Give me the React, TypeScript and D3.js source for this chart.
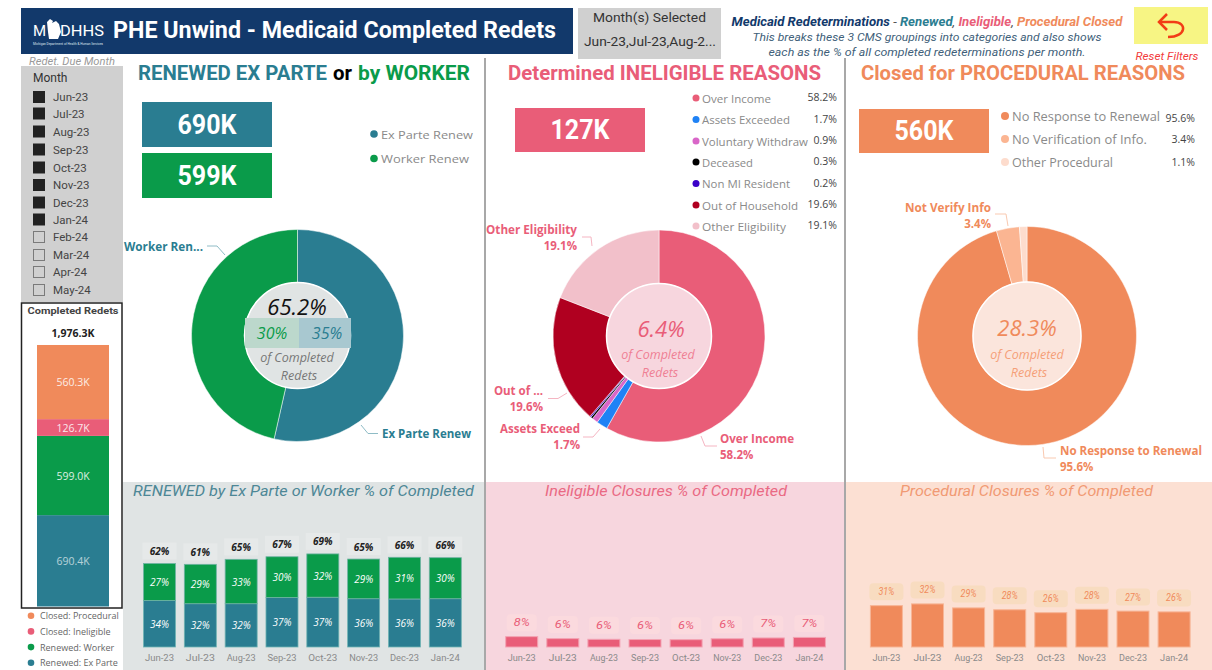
import React from "react";
import * as d3 from "d3";

// ---- data ----
const sliceMonths = ["Jun-23","Jul-23","Aug-23","Sep-23","Oct-23","Nov-23","Dec-23","Jan-24","Feb-24","Mar-24","Apr-24","May-24"];
const selectedCount = 8;
const barMonths = sliceMonths.slice(0, selectedCount);

const exParteShare = [34.4,32,32,36.6,36.8,35.7,35.5,35.7];
const workerShare = [27.3,29.1,32.8,30.1,32,29.3,30.8,30.3];
const ineligibleShare = [7.8,6.3,5.8,5.6,5.5,6.2,6.8,7.2];
const proceduralShare = [31.1,32.4,29.4,28,25.8,28.3,27,26.4];

const renewNames = ["Ex Parte Renew","Worker Renew"];
const renewValues = [690.4,599.0];
const ineligibleNames = ["Over Income","Assets Exceeded","Voluntary Withdraw","Deceased","Non MI Resident","Out of Household","Other Eligibility"];
const ineligibleValues = [58.2,1.7,0.9,0.3,0.2,19.6,19.1];
const proceduralNames = ["No Response to Renewal","No Verification of Info.","Other Procedural"];
const proceduralValues = [95.6,3.4,1.1];

const stackNames = ["Renewed: Ex Parte","Renewed: Worker","Closed: Ineligible","Closed: Procedural"];
const stackValues = [690.4,599.0,126.7,560.3];
const stackTotal = 1976.3;

// ---- style ----
const TEAL="#2a7d91", GREEN="#0a9b4a", PINK="#e95d78", ORANGE="#f08a5b";
const ineligibleColors=[PINK,"#1f82f5","#d966c8","#000000","#3a00c8","#b00020","#f2c0ca"];
const proceduralColors=[ORANGE,"#fbb592","#fddccd"];
const DIN="Roboto, 'Noto Sans', sans-serif";
const SEG="'Open Sans', 'Noto Sans', sans-serif";

const T=({x,y,children,size=12,fill="#555",weight=400,italic=false,anchor="start",font=SEG,len,op}:any)=>(
  <text x={x} y={y} fontSize={size} fill={fill} fontWeight={weight} fontStyle={italic?"italic":"normal"} textAnchor={anchor} fontFamily={font}
    textLength={len} lengthAdjust={len?"spacingAndGlyphs":undefined} opacity={op} dominantBaseline="central">{children}</text>
);

function Donut({cx,cy,r,ri,values,colors,hole,sep="#fff"}:any){
  const pie=d3.pie<number>().sort(null).value(d=>d);
  const arc=d3.arc<d3.PieArcDatum<number>>().innerRadius(ri).outerRadius(r);
  return <g transform={`translate(${cx},${cy})`}>
    {pie(values).map((a,i)=><path key={i} d={arc(a)||""} fill={colors[i]} stroke={sep} strokeWidth={0.5}/>)}
    <circle r={ri} fill={hole} stroke="#fff" strokeWidth={1.5}/>
  </g>;
}

const Leader=({pts,color}:any)=><path d={d3.line()(pts)||""} fill="none" stroke={color} strokeWidth={1}/>;

function BarPanel({x0,step,width,scale,values,color,edge,pill,pillW,pillH,textColor,gap}:any){
  const centers=barMonths.map((_,i)=>x0+i*step);
  const y=d3.scaleLinear().domain([0,100]).range([647,647-100*scale]);
  return <g>
    {values.map((v:number,i:number)=><g key={i}>
      <rect x={centers[i]-width/2} y={y(v)} width={width} height={647-y(v)} fill={color} stroke={edge} strokeWidth={1}/>
      <rect x={centers[i]-pillW/2} y={y(v)-gap-pillH/2} width={pillW} height={pillH} rx={4} fill={pill}/>
      <T x={centers[i]} y={y(v)-gap} anchor="middle" size={11} italic font={DIN} fill={textColor} len={16}>{Math.round(v)}%</T>
      <T x={centers[i]} y={657} anchor="middle" size={9.5} font={DIN} fill="#8a8a8a" len={28}>{barMonths[i]}</T>
    </g>)}
  </g>;
}

export default function App(){
  const stackY=d3.scaleLinear().domain([0,stackTotal]).range([606.5,345]);
  const stackColors=[TEAL,GREEN,PINK,ORANGE];
  let acc=0;
  const stacks=stackValues.map((v,i)=>{const s={y0:acc,y1:acc+v,v,c:stackColors[i]};acc+=v;return s;});

  const rx=d3.scaleLinear().domain([0,7]).range([159.5,445.3]);
  const ry=d3.scaleLinear().domain([0,100]).range([647,647-135.3]);

  const ineligRows=[98,119.5,141,162,183.5,205,226];
  const procRows=[116,139,162];

  return <svg width={1212} height={670} style={{position:"absolute",left:0,top:0,display:"block",background:"#fff"}}>
    {/* header */}
    <rect x={21} y={8} width={552} height={46} fill="#12396b"/>
    <path d="M47 22 l3 -3 l3 2 l-1 2 l4 -2 l3 3 l2 8 l-3 7 l-9 0 l-1 -7 z" fill="#fff"/>
    <T x={33} y={31} size={15} fill="#fff" font={DIN}>M</T>
    <T x={60} y={31} size={15} fill="#fff" font={DIN} len={44}>DHHS</T>
    <T x={33} y={43.5} size={3.5} fill="#dfe6ee" font={DIN} len={70}>Michigan Department of Health &amp; Human Services</T>
    <T x={113} y={30} size={23} fill="#fff" weight={700} font={DIN} len={443}>PHE Unwind - Medicaid Completed Redets</T>

    <rect x={578} y={8} width={143} height={51} fill="#d0d0d0"/>
    <T x={649.5} y={17} anchor="middle" size={12.5} font={DIN} fill="#333" len={113}>Month(s) Selected</T>
    <T x={650} y={41} anchor="middle" size={12.5} font={DIN} fill="#333" len={132}>Jun-23,Jul-23,Aug-2...</T>

    <text x={927} y={21} textAnchor="middle" fontSize={13.2} fontStyle="italic" fontFamily={DIN} dominantBaseline="central">
      <tspan fill="#12396b" fontWeight={700}>Medicaid Redeterminations</tspan><tspan fill="#555"> - </tspan>
      <tspan fill={TEAL} fontWeight={700}>Renewed</tspan><tspan fill="#555">, </tspan>
      <tspan fill={PINK} fontWeight={700}>Ineligible</tspan><tspan fill="#555">, </tspan>
      <tspan fill={ORANGE} fontWeight={700}>Procedural Closed</tspan>
    </text>
    <T x={927} y={37} anchor="middle" size={11.5} italic font={DIN} fill="#3f5f7a" len={349}>This breaks these 3 CMS groupings into categories and also shows</T>
    <T x={927} y={52} anchor="middle" size={11.5} italic font={DIN} fill="#3f5f7a" len={317}>each as the % of all completed redeterminations per month.</T>

    <rect x={1134} y={7} width={74} height={37} fill="#f7f584"/>
    <path d="M1160 22 H1174 C1187 22 1187 37 1168 37" fill="none" stroke="#f23c16" strokeWidth={2.5}/>
    <path d="M1167 14 L1159 22 L1167 30" fill="none" stroke="#f23c16" strokeWidth={2.5}/>
    <T x={1167} y={56.5} anchor="middle" size={10} italic font={DIN} fill="#f23c3c" len={63}>Reset Filters</T>

    {/* slicer */}
    <T x={29} y={61} size={10} italic font={DIN} fill="#9a9a9a" len={86}>Redet. Due Month</T>
    <rect x={21} y={66} width={102} height={236} fill="#d0d0d0"/>
    <T x={33} y={78} size={12} font={DIN} fill="#333">Month</T>
    {sliceMonths.map((m,i)=>{
      const ys=[97,113.5,131.5,149.5,167.5,185,202.5,219.5,237,255,272,290][i];
      return <g key={m}>
        <rect x={33.5} y={ys-5.5} width={11} height={11} fill={i<selectedCount?"#222":"none"} stroke={i<selectedCount?"#222":"#7a7a7a"}/>
        <T x={53} y={ys} size={11.5} font={DIN} fill="#444">{m}</T>
      </g>;
    })}

    {/* stacked total */}
    <rect x={21.5} y={303} width={100.5} height={305} fill="#fff" stroke="#222" strokeWidth={1.5}/>
    <T x={73} y={310} anchor="middle" size={9.5} weight={700} font={DIN} fill="#444" len={91}>Completed Redets</T>
    <T x={73} y={333} anchor="middle" size={10.5} weight={700} font={SEG} fill="#222">{`${d3.format(",.1f")(stackTotal)}K`}</T>
    {stacks.map((s,i)=><g key={i}>
      <rect x={37} width={72} y={stackY(s.y1)} height={stackY(s.y0)-stackY(s.y1)} fill={s.c}/>
      <T x={73} y={(stackY(s.y0)+stackY(s.y1))/2} anchor="middle" size={10.5} font={SEG} fill="#fff" op={i===0?0.65:0.85}>{`${s.v.toFixed(1)}K`}</T>
    </g>)}
    {[3,2,1,0].map((k,j)=><g key={k}>
      <circle cx={31} cy={615.7+j*15.7} r={3.3} fill={stackColors[k]}/>
      <T x={40} y={615.7+j*15.7} size={9} font={SEG} fill="#666">{stackNames[k]}</T>
    </g>)}

    {/* bottom panels */}
    <rect x={123} y={482} width={362} height={188} fill="#e0e4e4"/>
    <rect x={486} y={482} width={359} height={188} fill="#f7d6de"/>
    <rect x={846} y={482} width={366} height={188} fill="#fce0d3"/>
    <line x1={485} x2={485} y1={58} y2={670} stroke="#a8a8a8" strokeWidth={2}/>
    <line x1={845} x2={845} y1={58} y2={670} stroke="#a8a8a8" strokeWidth={2}/>

    {/* section titles */}
    <T x={138} y={73} size={21} weight={700} font={DIN} fill={TEAL} len={189}>RENEWED EX PARTE</T>
    <T x={333} y={73} size={21} weight={700} font={DIN} fill="#000" len={19}>or</T>
    <T x={358} y={73} size={21} weight={700} font={DIN} fill={GREEN} len={112}>by WORKER</T>
    <T x={508} y={73} size={21} weight={700} font={DIN} fill={PINK} len={313}>Determined INELIGIBLE REASONS</T>
    <T x={861} y={73} size={21} weight={700} font={DIN} fill={ORANGE} len={324}>Closed for PROCEDURAL REASONS</T>

    {/* KPI */}
    <rect x={142} y={102} width={130} height={45} fill={TEAL}/>
    <T x={207} y={125} anchor="middle" size={27} weight={700} font={DIN} fill="#fff" len={59}>690K</T>
    <rect x={142} y={153} width={130} height={45} fill={GREEN}/>
    <T x={207} y={176} anchor="middle" size={27} weight={700} font={DIN} fill="#fff" len={59}>599K</T>
    <rect x={515} y={108} width={130} height={44} fill={PINK}/>
    <T x={580} y={130} anchor="middle" size={27} weight={700} font={DIN} fill="#fff" len={59}>127K</T>
    <rect x={859} y={109} width={130} height={44} fill={ORANGE}/>
    <T x={924} y={131} anchor="middle" size={27} weight={700} font={DIN} fill="#fff" len={59}>560K</T>

    {/* legends */}
    {renewNames.map((n,i)=><g key={n}>
      <circle cx={374} cy={134+i*24.5} r={3.8} fill={[TEAL,GREEN][i]}/>
      <T x={381} y={134+i*24.5} size={11.5} font={SEG} fill="#8a8a8a" len={92-i*4}>{n}</T>
    </g>)}
    {ineligibleNames.map((n,i)=><g key={n}>
      <circle cx={696} cy={ineligRows[i]} r={3.5} fill={ineligibleColors[i]}/>
      <T x={702} y={ineligRows[i]} size={11} font={SEG} fill="#8a8a8a" len={[69,88,106,51,88,96,84][i]}>{n}</T>
      <T x={837} y={ineligRows[i]-1} anchor="end" size={10.5} font={SEG} fill="#444">{`${ineligibleValues[i].toFixed(1)}%`}</T>
    </g>)}
    {proceduralNames.map((n,i)=><g key={n}>
      <circle cx={1005} cy={procRows[i]} r={4} fill={proceduralColors[i]}/>
      <T x={1012} y={procRows[i]} size={12} font={SEG} fill="#8a8a8a" len={[148,135,101][i]}>{n}</T>
      <T x={1195} y={procRows[i]+(i===0?2:0)} anchor="end" size={10.5} font={SEG} fill="#444">{`${proceduralValues[i].toFixed(1)}%`}</T>
    </g>)}

    {/* donuts */}
    <Donut cx={297.5} cy={335.5} r={106} ri={53} values={renewValues} colors={[TEAL,GREEN]} hole="#e0e4e4"/>
    <rect x={245} y={318} width={54} height={30} fill="#bcd8cc"/>
    <rect x={299} y={318} width={52} height={30} fill="#a8c8d0"/>
    <T x={297} y={306} anchor="middle" size={22} italic font={SEG} fill="#111">65.2%</T>
    <T x={272} y={333} anchor="middle" size={16} italic font={SEG} fill={GREEN}>{`${Math.round(599.0/1976.3*100)}%`}</T>
    <T x={327} y={333} anchor="middle" size={16} italic font={SEG} fill={TEAL}>{`${Math.round(690.4/1976.3*100)}%`}</T>
    <T x={297} y={357} anchor="middle" size={12.5} italic font={SEG} fill="#777">of Completed</T>
    <T x={299} y={375} anchor="middle" size={12.5} italic font={SEG} fill="#777">Redets</T>
    <Leader color="#8fbcc6" pts={[[225,255],[217,246],[207,246]]}/>
    <Leader color="#8fbcc6" pts={[[361,425],[368,433.5],[378,433.5]]}/>
    <T x={124} y={246} size={11.5} weight={700} font={SEG} fill={TEAL} len={79}>Worker Ren...</T>
    <T x={382} y={433} size={11.5} weight={700} font={SEG} fill={TEAL} len={89}>Ex Parte Renew</T>

    <Donut cx={659} cy={336} r={106} ri={52.5} values={ineligibleValues} colors={ineligibleColors} hole="#f7d6de"/>
    <T x={661} y={328} anchor="middle" size={22} italic font={SEG} fill={PINK}>6.4%</T>
    <T x={658} y={354} anchor="middle" size={12.5} italic font={SEG} fill="#ef7f94">of Completed</T>
    <T x={660} y={372} anchor="middle" size={12.5} italic font={SEG} fill="#ef7f94">Redets</T>
    <Leader color="#f5b5c2" pts={[[592,246],[591,237],[582,237]]}/>
    <Leader color="#f5b5c2" pts={[[567,393],[558,398.5],[548,398.5]]}/>
    <Leader color="#f5b5c2" pts={[[600,429],[593,437],[583,437]]}/>
    <Leader color="#f5b5c2" pts={[[701,436],[705,446],[717,446]]}/>
    <T x={577} y={229} anchor="end" size={11.5} weight={700} font={SEG} fill={PINK} len={91}>Other Eligibility</T>
    <T x={577} y={245} anchor="end" size={11.5} weight={700} font={SEG} fill={PINK}>{`${ineligibleValues[6]}%`}</T>
    <T x={543} y={390} anchor="end" size={11.5} weight={700} font={SEG} fill={PINK}>Out of ...</T>
    <T x={543} y={406} anchor="end" size={11.5} weight={700} font={SEG} fill={PINK}>{`${ineligibleValues[5]}%`}</T>
    <T x={580} y={428} anchor="end" size={11.5} weight={700} font={SEG} fill={PINK} len={80}>Assets Exceed</T>
    <T x={580} y={444} anchor="end" size={11.5} weight={700} font={SEG} fill={PINK}>{`${ineligibleValues[1]}%`}</T>
    <T x={720} y={438} size={11.5} weight={700} font={SEG} fill={PINK} len={74}>Over Income</T>
    <T x={720} y={454} size={11.5} weight={700} font={SEG} fill={PINK}>{`${ineligibleValues[0]}%`}</T>

    <Donut cx={1027} cy={336} r={109.5} ri={54} values={proceduralValues} colors={proceduralColors} hole="#fbe5dc"/>
    <T x={1027} y={327} anchor="middle" size={22} italic font={SEG} fill={ORANGE}>28.3%</T>
    <T x={1027} y={354} anchor="middle" size={12.5} italic font={SEG} fill="#f59f78">of Completed</T>
    <T x={1029} y={372} anchor="middle" size={12.5} italic font={SEG} fill="#f59f78">Redets</T>
    <Leader color="#f9c9b0" pts={[[1008,226],[1006,214],[995,214]]}/>
    <Leader color="#f9c9b0" pts={[[1043,447],[1044,458],[1056,458]]}/>
    <T x={991} y={207} anchor="end" size={11.5} weight={700} font={SEG} fill={ORANGE} len={86}>Not Verify Info</T>
    <T x={991} y={223} anchor="end" size={11.5} weight={700} font={SEG} fill={ORANGE}>{`${proceduralValues[1]}%`}</T>
    <T x={1060} y={450} size={11.5} weight={700} font={SEG} fill={ORANGE} len={142}>No Response to Renewal</T>
    <T x={1060} y={466} size={11.5} weight={700} font={SEG} fill={ORANGE}>{`${proceduralValues[0]}%`}</T>

    {/* bottom titles */}
    <T x={133} y={491} size={14} italic font={DIN} fill="#4d8796" len={341}>RENEWED by Ex Parte or Worker % of Completed</T>
    <T x={545} y={491} size={14} italic font={DIN} fill="#ea6a84" len={242}>Ineligible Closures % of Completed</T>
    <T x={900} y={491} size={14} italic font={DIN} fill="#f19a74" len={253}>Procedural Closures % of Completed</T>

    {/* renewed stacked bars */}
    {barMonths.map((m,i)=>{
      const x=rx(i), e=exParteShare[i], w=workerShare[i], tot=e+w;
      return <g key={m}>
        <rect x={x-16} width={32} y={ry(e)} height={647-ry(e)} fill={TEAL} stroke="#6fb3b3" strokeWidth={0.8}/>
        <rect x={x-16} width={32} y={ry(tot)} height={ry(e)-ry(tot)} fill={GREEN} stroke="#6fb3a3" strokeWidth={0.8}/>
        <rect x={x-17} width={34} y={ry(tot)-21} height={17} fill="#e6e9e9"/>
        <T x={x} y={ry(tot)-12.5} anchor="middle" size={10} weight={700} italic font={SEG} fill="#222">{`${Math.round(tot)}%`}</T>
        <T x={x} y={(ry(e)+647)/2} anchor="middle" size={10} italic font={SEG} fill="#fff">{`${Math.round(e)}%`}</T>
        <T x={x} y={(ry(tot)+ry(e))/2} anchor="middle" size={10} italic font={SEG} fill="#fff">{`${Math.round(w)}%`}</T>
        <T x={x} y={657} anchor="middle" size={9.5} font={DIN} fill="#8a8a8a" len={29}>{m}</T>
      </g>;
    })}
    <BarPanel x0={521.7} step={41.1} width={32} scale={1.33} values={ineligibleShare} color={PINK} edge="#f3a3b3" pill="#fbdade" pillW={30} pillH={17} textColor={PINK} gap={14}/>
    <BarPanel x0={886.4} step={41.1} width={32} scale={1.33} values={proceduralShare} color={ORANGE} edge="#f7b596" pill="#f8dcc0" pillW={34} pillH={17} textColor={ORANGE} gap={14}/>
  </svg>;
}
